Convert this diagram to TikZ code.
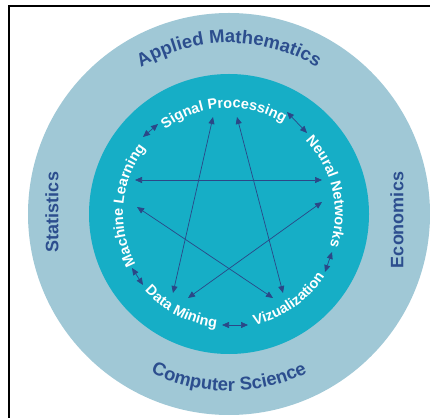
\documentclass[tikz,border=0pt]{standalone}
\usepackage{fontspec}
\setmainfont{Liberation Sans}
\usetikzlibrary{arrows.meta,decorations.text,calc}
\definecolor{ringouter}{HTML}{A0C8D6}
\definecolor{ringinner}{HTML}{16AEC6}
\definecolor{darkblue}{HTML}{2C4E8E}
\definecolor{arrowblue}{HTML}{2B4787}
\newcommand\fieldfont{\fontsize{18.5}{18.5}\selectfont\bfseries\color{darkblue}}
\newcommand\topicfont{\fontsize{14.5}{14.5}\selectfont\bfseries\color{white}}

\begin{document}
\begin{tikzpicture}[x=1pt,y=1pt,
  link/.style={draw=arrowblue, line width=0.7pt,
    {Triangle[length=7pt,width=6pt]}-{Triangle[length=7pt,width=6pt]}},
  curvetext/.style={decorate, decoration={text along path, text align=center, text={#1}}},
  fieldlabel/.style={font=\fontsize{18}{18}\selectfont\bfseries, text=darkblue, inner sep=0pt}]
\useasboundingbox (0,0) rectangle (430,417);
\coordinate (C) at (229,203);

% rings
\fill[ringouter] (C) circle[radius=201];
\fill[ringinner] (C) circle[radius=140];

% frame
\draw[line width=1.6pt] (9,-5) -- (9,411) -- (440,411);

% outer ring labels
\path[curvetext={|\fieldfont|Applied Mathematics}]
  ($(C)+(140:171)$) arc[start angle=140, end angle=40, radius=171];
\path[curvetext={|\fieldfont|Computer Science}]
  ($(C)+(225:177)$) arc[start angle=225, end angle=315, radius=177];
\node[fieldlabel, rotate=90] (stat) at (52,205) {Statistics};
\node[fieldlabel, rotate=90] (econ) at (397,197) {Economics};

% inner ring labels
\path[curvetext={|\topicfont|Signal Processing}]
  ($(C)+(143:106)$) arc[start angle=143, end angle=43, radius=106];
\path[curvetext={|\topicfont|Neural Networks}]
  ($(C)+(63:106)$) arc[start angle=63, end angle=-37, radius=106];
\path[curvetext={|\topicfont|Machine Learning}]
  ($(C)+(225:106)$) arc[start angle=225, end angle=125, radius=106];
\path[curvetext={|\topicfont|Data Mining}]
  ($(C)+(193:114)$) arc[start angle=193, end angle=293, radius=114];
\path[curvetext={|\topicfont|Vizualization}]
  ($(C)+(255:114)$) arc[start angle=255, end angle=355, radius=114];

% star connector ends
\coordinate (spL) at (213,300);
\coordinate (spR) at (237,300);
\coordinate (mlT) at (135,237);
\coordinate (mlB) at (137,210);
\coordinate (nnT) at (322,237);
\coordinate (nnB) at (322,215);
\coordinate (dmL) at (173,124);
\coordinate (dmR) at (188,119);
\coordinate (vzL) at (273,119);
\coordinate (vzR) at (283,124);

\draw[link] (spL) -- (dmL);
\draw[link] (spR) -- (vzR);
\draw[link] (mlT) -- (nnT);
\draw[link] (mlB) -- (vzL);
\draw[link] (nnB) -- (dmR);

% short links between neighbouring labels
\coordinate (a1) at (143,280); \coordinate (b1) at (158,293);
\coordinate (a2) at (287,305); \coordinate (b2) at (307,284);
\coordinate (a3) at (332,165); \coordinate (b3) at (325,145);
\coordinate (a4) at (222,92);  \coordinate (b4) at (248,92);
\coordinate (a5) at (132,149); \coordinate (b5) at (143,132);

\draw[link] (a1) -- (b1);
\draw[link] (a2) -- (b2);
\draw[link] (a3) -- (b3);
\draw[link] (a4) -- (b4);
\draw[link] (a5) -- (b5);
\end{tikzpicture}
\end{document}
